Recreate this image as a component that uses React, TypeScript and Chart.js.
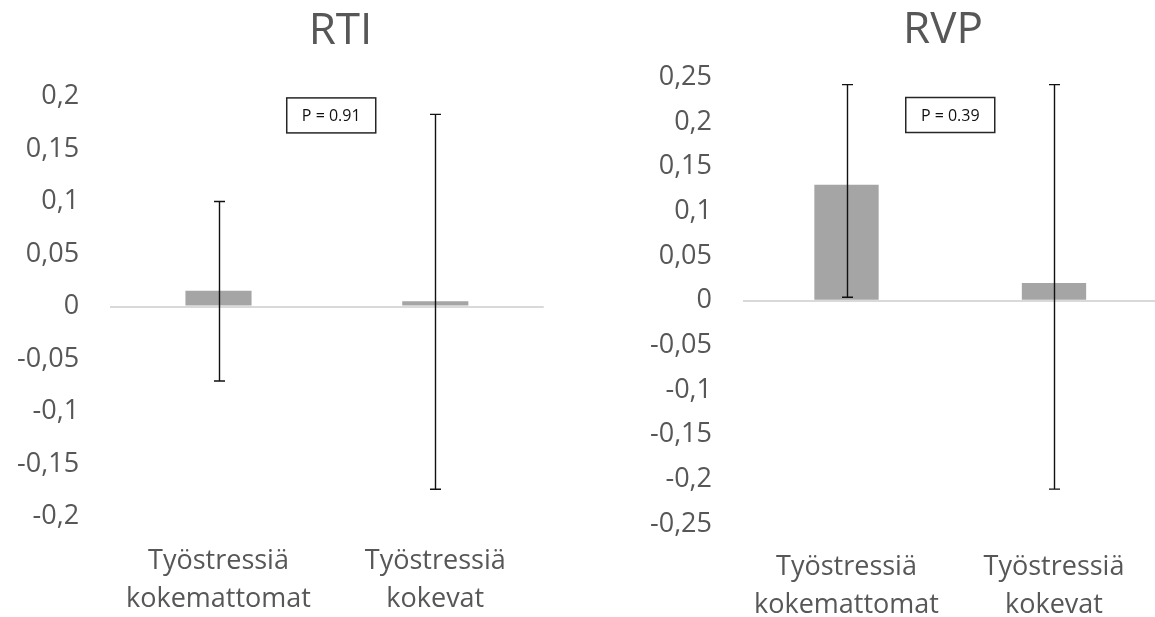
import React, { useEffect, useRef } from "react";
import { Chart, registerables } from "chart.js";

Chart.register(...registerables);

// ---- data ----
const categories: string[][] = [
  ["Työstressiä", "kokemattomat"],
  ["Työstressiä", "kokevat"],
];

const rtiTitle = "RTI";
const rtiMeans = [0.015, 0.005];
const rtiErrLow = [-0.071, -0.174];
const rtiErrHigh = [0.1, 0.183];
const rtiTickValues = [-0.2, -0.15, -0.1, -0.05, 0, 0.05, 0.1, 0.15, 0.2];
const rtiPText = "P = 0.91";

const rvpTitle = "RVP";
const rvpMeans = [0.13, 0.02];
const rvpErrLow = [0.004, -0.211];
const rvpErrHigh = [0.242, 0.242];
const rvpTickValues = [-0.25, -0.2, -0.15, -0.1, -0.05, 0, 0.05, 0.1, 0.15, 0.2, 0.25];
const rvpPText = "P = 0.39";

// ---- styles ----
const FONT = "'Open Sans', 'DejaVu Sans', sans-serif";
const TEXT_GRAY = "#575757";
const BAR_GRAY = "#a5a5a5";
const ZERO_LINE = "#d9d9d9";

function formatTick(v: number): string {
  const r = Math.round(v * 100) / 100;
  return String(r).replace(".", ",");
}

function errorBarPlugin(low: number[], high: number[]) {
  return {
    id: "errorBars",
    afterDatasetsDraw(chart: any) {
      const meta = chart.getDatasetMeta(0);
      const ys = chart.scales.y;
      const ctx = chart.ctx;
      ctx.save();
      ctx.strokeStyle = "#111";
      ctx.lineWidth = 1.4;
      meta.data.forEach((bar: any, i: number) => {
        const x = Math.round(bar.x) + 0.5;
        const yh = ys.getPixelForValue(high[i]);
        const yl = ys.getPixelForValue(low[i]);
        const cap = 5.5;
        ctx.beginPath();
        ctx.moveTo(x, yh);
        ctx.lineTo(x, yl);
        ctx.moveTo(x - cap, yh);
        ctx.lineTo(x + cap, yh);
        ctx.moveTo(x - cap, yl);
        ctx.lineTo(x + cap, yl);
        ctx.stroke();
      });
      ctx.restore();
    },
  };
}

function pBoxPlugin(text: string, xIndex: number, yValue: number) {
  return {
    id: "pBox",
    afterDraw(chart: any) {
      const xs = chart.scales.x;
      const ys = chart.scales.y;
      const ctx = chart.ctx;
      const cx = xs.getPixelForValue(xIndex);
      const cy = ys.getPixelForValue(yValue);
      const w = 89;
      const h = 35;
      ctx.save();
      ctx.fillStyle = "#ffffff";
      ctx.fillRect(cx - w / 2, cy - h / 2, w, h);
      ctx.strokeStyle = "#262626";
      ctx.lineWidth = 1.5;
      ctx.strokeRect(cx - w / 2, cy - h / 2, w, h);
      ctx.fillStyle = "#111111";
      ctx.font = `16px ${FONT}`;
      ctx.textAlign = "center";
      ctx.textBaseline = "middle";
      ctx.fillText(text, cx, cy + 1);
      ctx.restore();
    },
  };
}

type PanelProps = {
  left: number;
  width: number;
  title: string;
  means: number[];
  errLow: number[];
  errHigh: number[];
  tickValues: number[];
  pText: string;
  pX: number;
  pY: number;
  yAxisWidth: number;
  yTickPad: number;
  spacerWidth: number;
  titlePadTop: number;
  titlePadBottom: number;
  xAxisHeight: number;
  xTickPad: number;
  xLineHeight: number;
  barPct: number;
};

function Panel(p: PanelProps) {
  const ref = useRef<HTMLCanvasElement | null>(null);
  useEffect(() => {
    if (!ref.current) return;
    const minV = p.tickValues[0];
    const maxV = p.tickValues[p.tickValues.length - 1];
    const chart = new Chart(ref.current, {
      type: "bar",
      data: {
        labels: categories,
        datasets: [
          {
            data: p.means,
            backgroundColor: BAR_GRAY,
            borderWidth: 0,
            categoryPercentage: 1,
            barPercentage: p.barPct,
          },
        ],
      },
      options: {
        responsive: false,
        animation: false,
        devicePixelRatio: 1,
        layout: { padding: 0 },
        plugins: {
          legend: { display: false },
          tooltip: { enabled: false },
          title: {
            display: true,
            text: p.title,
            color: TEXT_GRAY,
            font: { family: FONT, size: 44, weight: "normal", lineHeight: 1.2 },
            padding: { top: p.titlePadTop, bottom: p.titlePadBottom },
          },
        },
        scales: {
          x: {
            type: "category",
            offset: true,
            grid: { display: false, drawTicks: false },
            border: { display: false },
            ticks: {
              color: TEXT_GRAY,
              font: { family: FONT, size: 27, lineHeight: p.xLineHeight },
              padding: p.xTickPad,
              maxRotation: 0,
              minRotation: 0,
              autoSkip: false,
            },
            afterFit: (scale: any) => {
              scale.height = p.xAxisHeight;
            },
          },
          y: {
            type: "linear",
            position: "left",
            min: minV,
            max: maxV,
            afterBuildTicks: (scale: any) => {
              scale.ticks = p.tickValues.map((v) => ({ value: v }));
            },
            grid: {
              drawTicks: false,
              lineWidth: 2,
              color: (c: any) =>
                c.tick && Math.abs(c.tick.value) < 1e-9 ? ZERO_LINE : "rgba(0,0,0,0)",
            },
            border: { display: false },
            ticks: {
              color: TEXT_GRAY,
              font: { family: FONT, size: 27 },
              padding: p.yTickPad,
              callback: (v: any) => formatTick(Number(v)),
            },
            afterFit: (scale: any) => {
              scale.width = p.yAxisWidth;
            },
          },
          spacer: {
            type: "linear",
            position: "right",
            display: true,
            grid: { display: false, drawTicks: false },
            border: { display: false },
            ticks: { display: false },
            afterFit: (scale: any) => {
              scale.width = p.spacerWidth;
            },
          },
        },
      } as any,
      plugins: [errorBarPlugin(p.errLow, p.errHigh), pBoxPlugin(p.pText, p.pX, p.pY)],
    });
    return () => chart.destroy();
  }, []);
  return (
    <canvas
      ref={ref}
      width={p.width}
      height={617}
      style={{ position: "absolute", left: p.left, top: 0, width: p.width, height: 617, display: "block" }}
    />
  );
}

export default function App() {
  return (
    <div
      style={{
        position: "absolute",
        left: 0,
        top: 0,
        width: 1155,
        height: 617,
        overflow: "hidden",
        background: "#ffffff",
      }}
    >
      <Panel
        left={0}
        width={681}
        title={rtiTitle}
        means={rtiMeans}
        errLow={rtiErrLow}
        errHigh={rtiErrHigh}
        tickValues={rtiTickValues}
        pText={rtiPText}
        pX={0.52}
        pY={0.182}
        yAxisWidth={110.1}
        yTickPad={31}
        spacerWidth={137.3}
        titlePadTop={5}
        titlePadBottom={38.7}
        xAxisHeight={100.5}
        xTickPad={25.5}
        xLineHeight={1.42}
        barPct={0.305}
      />
      <Panel
        left={630}
        width={626}
        title={rvpTitle}
        means={rvpMeans}
        errLow={rvpErrLow}
        errHigh={rvpErrHigh}
        tickValues={rvpTickValues}
        pText={rvpPText}
        pX={0.5}
        pY={0.208}
        yAxisWidth={112.75}
        yTickPad={30.75}
        spacerWidth={98.25}
        titlePadTop={4}
        titlePadBottom={20.7}
        xAxisHeight={93}
        xTickPad={24.5}
        xLineHeight={1.41}
        barPct={0.31}
      />
    </div>
  );
}
